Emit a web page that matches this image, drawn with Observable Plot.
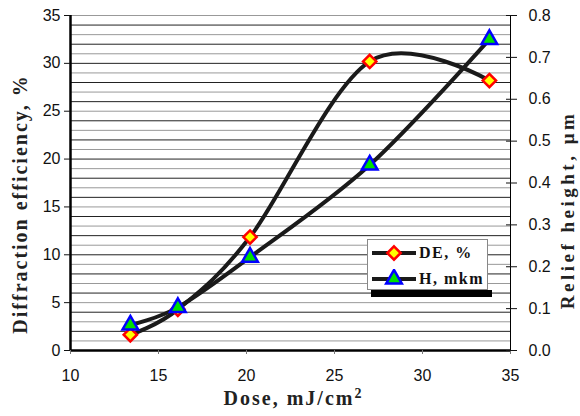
<!DOCTYPE html>
<html>
<head>
<meta charset="utf-8">
<script src="https://cdn.jsdelivr.net/npm/d3@7"></script>
<script src="https://cdn.jsdelivr.net/npm/@observablehq/plot@0.6"></script>
<style>
  html, body { margin: 0; padding: 0; background: #fff; }
  #wrap { position: relative; width: 580px; height: 416px; }
  #wrap svg { display: block; }
  .legend { position: absolute; left: 367px; top: 239px; width: 119px; height: 49px;
            border: 1px solid #888; background: #fff; z-index: 2; }
  .legend-shadow { position: absolute; left: 371px; top: 290px; width: 121px; height: 7px; background: #000; z-index: 1; }
  .legend .row { position: absolute; left: 4px; height: 20px; display: flex; align-items: center; white-space: nowrap; }
  .legend .row span { font-family: "Liberation Serif", "Times New Roman", serif; font-weight: bold;
            font-size: 16px; letter-spacing: 1.5px; margin-left: 3px; color: #111; white-space: nowrap; }
</style>
</head>
<body>
<div id="wrap"></div>
<script>
// ---- data ----
const doses  = [13.4, 16.1, 20.2, 27.0, 33.8];       // Dose, mJ/cm2
const deVals = [1.65, 4.3, 11.85, 30.2, 28.2];        // Diffraction efficiency, %
const hVals  = [0.061, 0.103, 0.223, 0.443, 0.743];   // Relief height, µm
const doseTicks = [10, 15, 20, 25, 30, 35];
const deTicks = [0, 5, 10, 15, 20, 25, 30, 35];
const hTicks = [0.0, 0.1, 0.2, 0.3, 0.4, 0.5, 0.6, 0.7, 0.8];
const gridVals = d3.range(0, 36, 1);
const seriesNames = ["DE, %", "H, mkm"];

const k = 35 / 0.8; // right axis (µm) mapped onto left axis (%)
const rows = doses.map((d, i) => ({dose: d, de: deVals[i], h: hVals[i] * k}));

const serif = "Liberation Serif, Times New Roman, serif";
const lineColor = "#1a1a1a";

const chart = Plot.plot({
  width: 580, height: 416,
  marginLeft: 70, marginRight: 70, marginTop: 15, marginBottom: 66,
  x: {domain: [10, 35]},
  y: {domain: [0, 35]},
  style: {fontFamily: "Liberation Sans, Arial, sans-serif", fontSize: "16px", color: "#111", background: "white"},
  marks: [
    Plot.ruleY(gridVals.filter(v => v % 2 === 0), {stroke: "#222", strokeWidth: 1}),
    Plot.ruleY(gridVals.filter(v => v % 2 === 1), {stroke: "#999", strokeWidth: 1}),
    Plot.ruleX([35], {stroke: "#000", strokeWidth: 1}),
    Plot.ruleX([10], {stroke: "#000", strokeWidth: 2.5}),
    Plot.ruleY([0], {stroke: "#000", strokeWidth: 2.5}),
    Plot.axisX(doseTicks, {tickSize: 4, tickPadding: 15, stroke: "#777", label: null}),
    Plot.axisY(deTicks, {anchor: "left", tickSize: 6, tickPadding: 4, label: null}),
    Plot.axisY(hTicks.map(v => v * k), {anchor: "right", tickSize: 11, dx: -5, tickPadding: 12,
      tickFormat: d => (d / k).toFixed(1), label: null}),
    Plot.line(rows, {x: "dose", y: "de", curve: "cardinal", stroke: lineColor, strokeWidth: 4}),
    Plot.dot(rows, {x: "dose", y: "de", symbol: "diamond2", r: 6, fill: "#ffff00", stroke: "#ff0000", strokeWidth: 2.5}),
    Plot.line(rows, {x: "dose", y: "h", curve: "cardinal", stroke: lineColor, strokeWidth: 4}),
    Plot.dot(rows, {x: "dose", y: "h", symbol: "triangle", r: 5.8, fill: "#00e000", stroke: "#0000ff", strokeWidth: 2.5}),
    Plot.text(["Diffraction efficiency, %"], {frameAnchor: "left", textAnchor: "middle", rotate: -90, dx: -50, dy: 21,
      fontFamily: serif, fontWeight: "bold", fontSize: 20, fill: "#222"}),
    Plot.text(["Relief height, μm"], {frameAnchor: "right", textAnchor: "middle", rotate: -90, dx: 57, dy: 27,
      fontFamily: serif, fontWeight: "bold", fontSize: 19, fill: "#222"}),
    Plot.text(["Dose, mJ/cm2"], {frameAnchor: "bottom", textAnchor: "middle", dx: 3, dy: 54,
      fontFamily: serif, fontWeight: "bold", fontSize: 20, fill: "#222"})
  ]
});

const wrap = document.getElementById("wrap");
wrap.appendChild(chart);

// letter spacing & superscript for titles
const svg = d3.select(chart);
svg.selectAll("text").each(function () {
  const t = this.textContent;
  if (t === "Diffraction efficiency, %") d3.select(this).style("letter-spacing", "2px");
  if (t === "Relief height, μm") d3.select(this).style("letter-spacing", "3.5px");
  if (t === "Dose, mJ/cm2") {
    const el = d3.select(this).style("letter-spacing", "2px");
    el.text("Dose, mJ/cm");
    el.append("tspan").attr("dy", "-0.45em").attr("font-size", 14).text("2");
  }
});

// legend
const shadow = document.createElement("div");
shadow.className = "legend-shadow";
wrap.appendChild(shadow);
const legend = document.createElement("div");
legend.className = "legend";
wrap.appendChild(legend);
const markers = [
  {sym: d3.symbolDiamond2, r: 6, fill: "#ffff00", stroke: "#ff0000"},
  {sym: d3.symbolTriangle, r: 5.8, fill: "#00e000", stroke: "#0000ff"}
];
seriesNames.forEach((name, i) => {
  const row = document.createElement("div");
  row.className = "row";
  row.style.top = (i === 0 ? 3 : 29) + "px";
  const m = markers[i];
  const p = d3.symbol(m.sym, Math.PI * m.r * m.r)();
  row.innerHTML = `<svg width="44" height="20" viewBox="0 0 44 20">
    <line x1="0" x2="44" y1="10" y2="10" stroke="${lineColor}" stroke-width="4"/>
    <path d="${p}" transform="translate(22,10)" fill="${m.fill}" stroke="${m.stroke}" stroke-width="2.5"/>
  </svg><span>${name}</span>`;
  legend.appendChild(row);
});
</script>
</body>
</html>
